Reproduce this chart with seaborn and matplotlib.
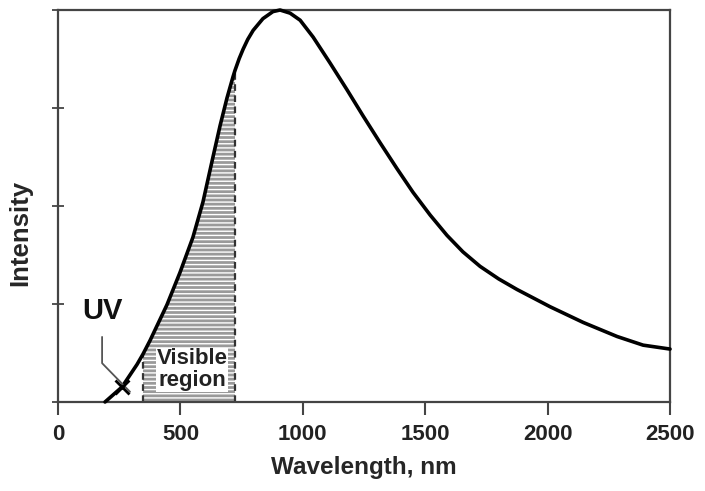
import numpy as np
import pandas as pd
import matplotlib.pyplot as plt
import seaborn as sns

# --- Datos ---
wavelength = [192, 261, 323, 347, 376, 445, 498, 551, 592, 633, 662, 690, 715, 723,
              740, 756, 775, 797, 837, 878, 907, 948, 989, 1042, 1111, 1181, 1246,
              1315, 1385, 1450, 1520, 1589, 1654, 1724, 1800, 1875, 2010, 2145, 2284,
              2390, 2500]
intensity = [0.0, 0.038, 0.096, 0.122, 0.157, 0.248, 0.330, 0.420, 0.510, 0.625, 0.705,
             0.775, 0.830, 0.846, 0.876, 0.900, 0.925, 0.948, 0.978, 0.996, 1.0, 0.992,
             0.974, 0.931, 0.865, 0.796, 0.730, 0.662, 0.595, 0.535, 0.477, 0.425,
             0.383, 0.346, 0.314, 0.287, 0.243, 0.203, 0.167, 0.145, 0.135]
visible_lo, visible_hi = 347, 723
uv_point = (261, 0.038)
x_ticks = [0, 500, 1000, 1500, 2000, 2500]

df = pd.DataFrame({"wl": wavelength, "I": intensity})

sns.set_style("ticks")
plt.rcParams["font.family"] = ["Liberation Sans", "DejaVu Sans"]

fig = plt.figure(figsize=(7.05, 4.91), dpi=100)
ax = fig.add_axes([0.0823, 0.1813, 0.8681, 0.7983])

# zona visible rayada
vis = df[(df["wl"] >= visible_lo) & (df["wl"] <= visible_hi)]
ax.fill_between(vis["wl"], 0, vis["I"], facecolor="#9a9a9a", edgecolor="white",
                hatch="----", linewidth=0, zorder=1)
ax.vlines([visible_lo, visible_hi], 0, [vis["I"].iloc[0], vis["I"].iloc[-1]],
          colors="#333333", linestyles=(0, (3, 2)), linewidth=1.6, zorder=2)

sns.lineplot(data=df, x="wl", y="I", color="black", linewidth=2.6, ax=ax,
             zorder=3, clip_on=False)

# UV
ax.plot([180, 180, 294], [0.166, 0.099, 0.026], color="#555555", linewidth=1.3, zorder=4)
ax.plot(*uv_point, marker="x", color="black", markersize=10, mew=2, zorder=5)
ax.text(180, 0.232, "UV", fontsize=21, fontweight="bold", ha="center", va="center",
        color="#111111")
ax.text(547, 0.082, "Visible\nregion", fontsize=16, fontweight="bold", ha="center",
        va="center", color="#222222", linespacing=1.05,
        bbox=dict(facecolor="white", edgecolor="none", pad=0.3), zorder=4)

ax.set_xlim(0, 2500)
ax.set_ylim(0, 1.0)
ax.set_xticks(x_ticks)
ax.set_xticklabels([str(t) for t in x_ticks], fontsize=16, fontweight="bold",
                   color="#222222")
ax.set_yticks([0, 0.25, 0.5, 0.75, 1.0])
ax.set_yticklabels([])
ax.tick_params(axis="x", direction="out", length=9, width=1.5, color="#444444", pad=7)
ax.tick_params(axis="y", direction="inout", length=9, width=1.3, color="#444444")

for s in ax.spines.values():
    s.set_color("#444444")
    s.set_linewidth(1.6)

ax.set_xlabel("Wavelength, nm", fontsize=17.5, fontweight="bold", labelpad=8)
ax.set_ylabel("Intensity", fontsize=18.5, fontweight="bold")
ax.yaxis.set_label_coords(-0.042, 0.43)

plt.savefig("out.png", dpi=100)
